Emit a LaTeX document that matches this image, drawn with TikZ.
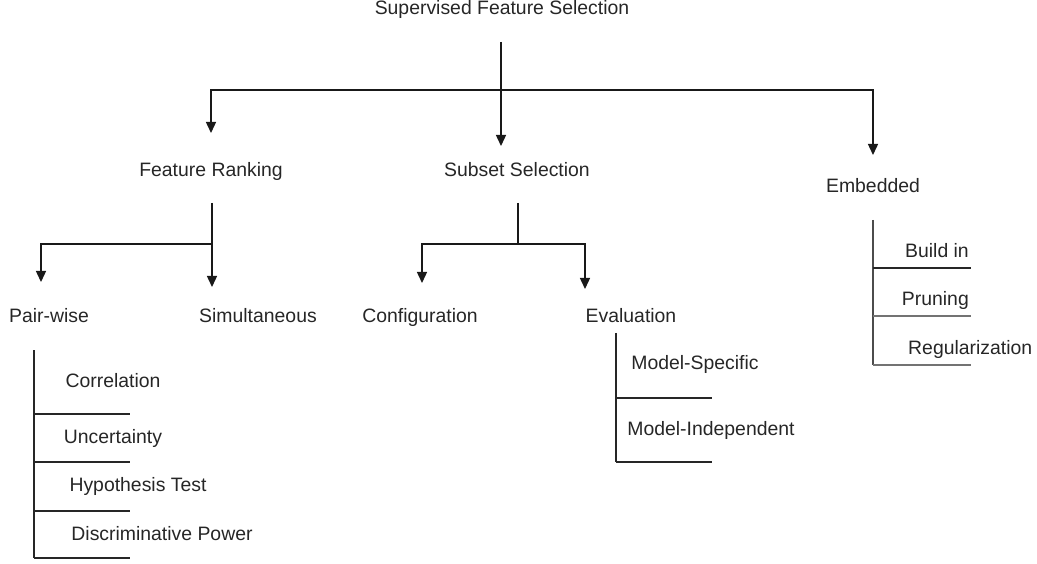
\documentclass[tikz,border=0pt]{standalone}
\usepackage{fontspec}
\setmainfont{Liberation Sans}
\usetikzlibrary{arrows.meta}
\begin{document}
\begin{tikzpicture}[x=1pt,y=-1pt,
  lbl/.style={inner sep=0pt,text height=0.72em,text depth=0pt,text=black!85,font=\fontsize{19.4}{21}\selectfont},
  link/.style={draw=black!90,line width=1.4pt},
  arrowlink/.style={link,-{Triangle[width=10pt,length=11pt]}},
  rule/.style={draw=black!85,line width=1.4pt},
  softrule/.style={draw=black!55,line width=1.6pt}]
\useasboundingbox (0,0) rectangle (1037,564);

% labels
\node[lbl] (root) at (502,11) {Supervised Feature Selection};
\node[lbl] (rank) at (211,173) {Feature Ranking};
\node[lbl] (subset) at (517,173) {Subset Selection};
\node[lbl] (emb) at (873,189) {Embedded};
\node[lbl] (pair) at (49,319) {Pair-wise};
\node[lbl] (simul) at (258,319) {Simultaneous};
\node[lbl] (config) at (420,319) {Configuration};
\node[lbl] (eval) at (631,319) {Evaluation};
\node[lbl] (corr) at (113,384) {Correlation};
\node[lbl] (unc) at (113,440) {Uncertainty};
\node[lbl] (hyp) at (138,488) {Hypothesis Test};
\node[lbl] (disc) at (162,537) {Discriminative Power};
\node[lbl] (mspec) at (695,366) {Model-Specific};
\node[lbl] (mind) at (711,432) {Model-Independent};
\node[lbl,anchor=east] (build) at (969,254) {Build in};
\node[lbl,anchor=east] (prune) at (969,302) {Pruning};
\node[lbl,anchor=west] (reg) at (908,351) {Regularization};

% junction points of the tree
\coordinate (rootout) at (501,42);
\coordinate (rootbar) at (501,90);
\coordinate (subin) at (501,146);
\coordinate (rankout) at (212,203);
\coordinate (rankbar) at (212,244);
\coordinate (subout) at (518,203);
\coordinate (subbar) at (518,244);

% first level
\draw[link] (rootout) -- (rootbar);
\draw[arrowlink] (rootbar) -- (subin);
\draw[arrowlink] (rootbar) -| (rank.north |- 0,133);
\draw[arrowlink] (rootbar) -| (emb.north |- 0,155);

% feature ranking branches
\draw[link] (rankout) -- (rankbar);
\draw[arrowlink] (rankbar) -| (41,282);
\draw[arrowlink] (rankbar) -- (212,287);

% subset selection branches
\draw[link] (subout) -- (subbar);
\draw[arrowlink] (subbar) -| (422,283);
\draw[arrowlink] (subbar) -| (585,289);

% pair-wise measures
\draw[rule] (34,350) -- (34,558);
\foreach \yy in {414,462,511,558} \draw[rule] (34,\yy) -- (130,\yy);

% evaluation kinds
\draw[rule] (616,333) -- (616,462);
\foreach \yy in {398,462} \draw[rule] (616,\yy) -- (712,\yy);

% embedded kinds
\draw[draw=black!70,line width=1.5pt] (873,220) -- (873,365);
\draw[rule] (873,268) -- (971,268);
\foreach \yy in {316,365} \draw[softrule] (873,\yy) -- (971,\yy);
\end{tikzpicture}
\end{document}
